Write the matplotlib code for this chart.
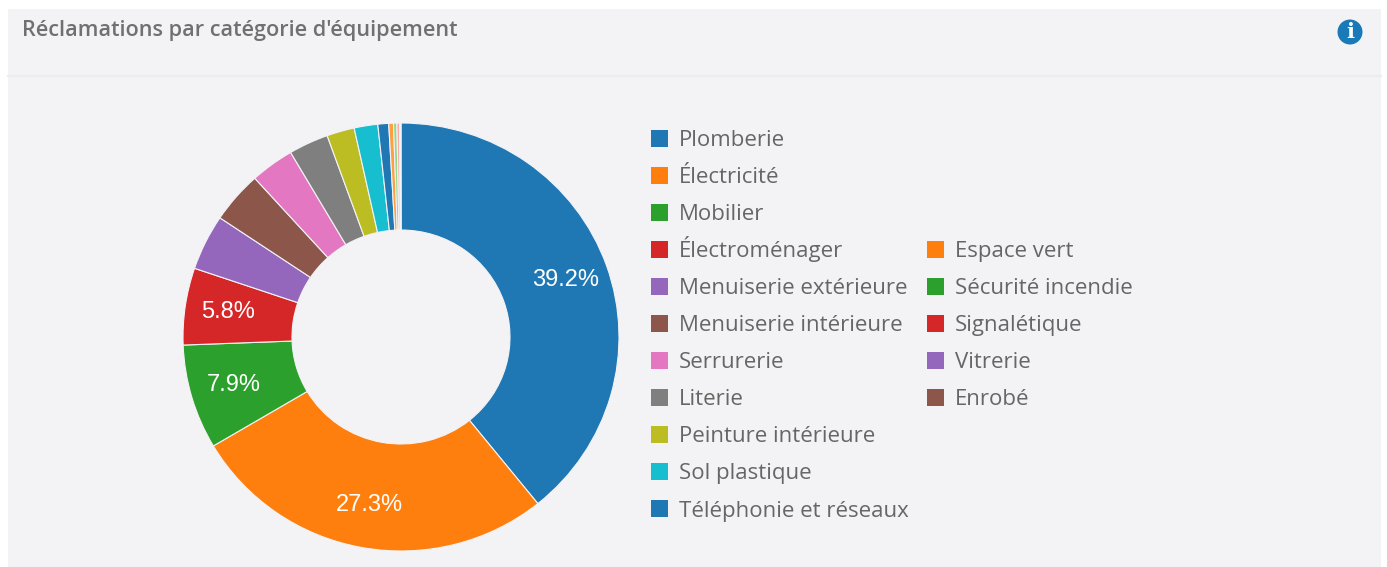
import matplotlib
matplotlib.use("Agg")
import matplotlib.pyplot as plt
from matplotlib.patches import Rectangle, Ellipse

W, H = 1387, 567

categories = ["Plomberie", "Électricité", "Mobilier", "Électroménager",
              "Menuiserie extérieure", "Menuiserie intérieure", "Serrurerie",
              "Literie", "Peinture intérieure", "Sol plastique",
              "Téléphonie et réseaux", "Espace vert", "Sécurité incendie",
              "Signalétique", "Vitrerie", "Enrobé"]
values = [39.2, 27.3, 7.9, 5.8, 4.2, 3.9, 3.25, 2.95, 2.05, 1.75, 0.8,
          0.35, 0.25, 0.2, 0.05, 0.05]
colors = ["#1f77b4", "#ff7f0e", "#2ca02c", "#d62728", "#9467bd", "#8c564b",
          "#e377c2", "#7f7f7f", "#bcbd22", "#17becf", "#1f77b4",
          "#ff9f45", "#8fd98a", "#ffa8a6", "#c5b0d5", "#c49c94"]
legend_colors_2 = ["#ff7f0e", "#2ca02c", "#d62728", "#9467bd", "#8c564b"]

plt.rcParams["font.family"] = ["Open Sans", "DejaVu Sans"]

fig = plt.figure(figsize=(W / 100, H / 100), dpi=100, facecolor="white")


def px_rect(x0, y0, x1, y1):
    return [x0 / W, 1 - y1 / H, (x1 - x0) / W, (y1 - y0) / H]


# panel background and header
bg = fig.add_axes([0, 0, 1, 1])
bg.set_xlim(0, W)
bg.set_ylim(H, 0)
bg.axis("off")
bg.add_patch(Rectangle((8, 9), 1373, 558, fc="#f3f3f5", ec="none"))
bg.plot([8, 1381], [76, 76], color="#ebebf0", lw=1.5)
bg.text(22, 36, "Réclamations par catégorie d'équipement", color="#707070",
        fontsize=15.6, fontweight="semibold", va="baseline", ha="left")
bg.add_patch(Ellipse((1350, 32), 25, 25, fc="#1a7ab8", ec="none"))
bg.text(1350, 32.5, "i", color="white", fontsize=15, fontweight="bold",
        family="DejaVu Serif", va="center", ha="center")

# donut
ax = fig.add_axes(px_rect(183, 123, 619, 551))
wedges, texts, autotexts = ax.pie(
    values, colors=colors, startangle=90, counterclock=False, radius=1,
    autopct=lambda p: f"{p:.1f}%" if p > 5 else "", pctdistance=0.8,
    wedgeprops={"width": 0.5, "edgecolor": "#f3f3f5", "linewidth": 0.8},
    textprops={"color": "white", "fontsize": 17, "family": "Liberation Sans"})
ax.set_aspect("auto")
ax.set_xlim(-1, 1)
ax.set_ylim(-1, 1)


# legend, two columns with the second one starting on row 4
def legend_column(names, cols, x, first_row):
    for i, (name, col) in enumerate(zip(names, cols)):
        y = 138 + 37.05 * (first_row + i)
        bg.add_patch(Rectangle((x, y - 8.5), 17, 17, fc=col, ec="none"))
        bg.text(x + 28, y + 8, name, color="#666666", fontsize=16,
                va="baseline", ha="left")


legend_column(categories[:11], colors[:11], 651, 0)
legend_column(categories[11:], legend_colors_2, 927, 3)

fig.savefig("out.png", dpi=100, facecolor=fig.get_facecolor())
